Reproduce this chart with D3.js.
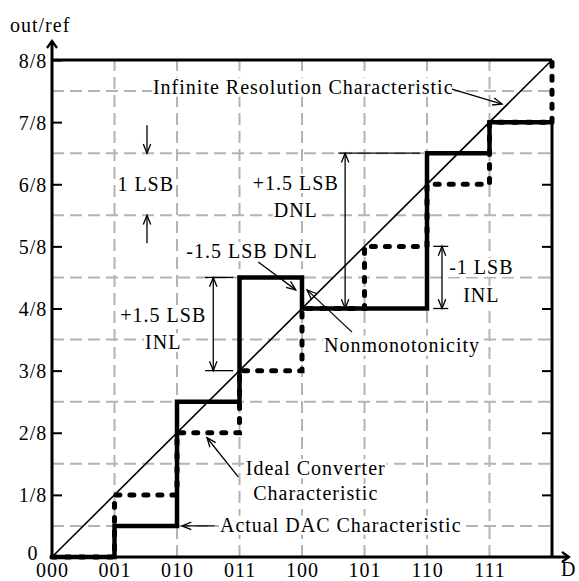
<!DOCTYPE html>
<html>
<head>
<meta charset="utf-8">
<script src="https://cdn.jsdelivr.net/npm/d3@7"></script>
<style>
  body { margin: 0; background: #fff; }
  text { font-family: "Liberation Serif", "Times New Roman", serif; font-size: 20px; letter-spacing: 1px; fill: #000; }
</style>
</head>
<body>
<div id="chart-area"></div>
<script>
// DAC transfer characteristic, values in LSB (eighths of ref)
const codes = ["000", "001", "010", "011", "100", "101", "110", "111"]
const levels = ["0", "1/8", "2/8", "3/8", "4/8", "5/8", "6/8", "7/8", "8/8"]
const ideal = [0, 1, 2, 3, 4, 5, 6, 7]
const actual = [0, 0.5, 2.5, 4.5, 4, 4, 6.5, 7]
const halfSteps = [0.5, 1.5, 2.5, 3.5, 4.5, 5.5, 6.5, 7.5]

const WIDTH = 579, HEIGHT = 581
const MARGIN = { LEFT: 52, RIGHT: 27, TOP: 60, BOTTOM: 24 }

const svg = d3.select("#chart-area").append("svg")
  .attr("width", WIDTH)
  .attr("height", HEIGHT)

const x = d3.scaleLinear().domain([0, 8]).range([MARGIN.LEFT, WIDTH - MARGIN.RIGHT])
const y = d3.scaleLinear().domain([0, 8]).range([HEIGHT - MARGIN.BOTTOM, MARGIN.TOP])

// grid
const grid = svg.append("g")
  .attr("stroke", "#b4b4b4")
  .attr("stroke-width", 2)
  .attr("stroke-dasharray", "12,6")
grid.selectAll(".vg").data(d3.range(1, 8)).enter().append("line")
  .attr("x1", d => x(d)).attr("x2", d => x(d))
  .attr("y1", y(0)).attr("y2", y(8))
grid.selectAll(".hg").data(halfSteps).enter().append("line")
  .attr("x1", x(0)).attr("x2", x(8))
  .attr("y1", d => y(d)).attr("y2", d => y(d))

// annotations (positions in code / LSB units)
const notes = [
  { lines: ["Infinite Resolution Characteristic"], cx: 4.02, cy: [7.57] },
  { lines: ["1 LSB"], cx: 1.5, cy: [6.0] },
  { lines: ["+1.5 LSB", "DNL"], cx: 3.9, cy: [6.02, 5.58] },
  { lines: ["-1.5 LSB DNL"], cx: 3.2, cy: [4.92] },
  { lines: ["+1.5 LSB", "INL"], cx: 1.78, cy: [3.9, 3.46] },
  { lines: ["Nonmonotonicity"], cx: 5.6, cy: [3.42] },
  { lines: ["-1 LSB", "INL"], cx: 6.87, cy: [4.67, 4.22] },
  { lines: ["Ideal Converter", "Characteristic"], cx: 4.22, cy: [1.43, 1.03] },
  { lines: ["Actual DAC Characteristic"], cx: 4.62, cy: [0.52] }
]
// pointers: [x1, y1, x2, y2], head at the second point
const pointers = [
  [6.4, 7.53, 7.2, 7.29],
  [1.52, 6.95, 1.52, 6.5],
  [1.52, 5.05, 1.52, 5.5],
  [3.3, 4.75, 3.9, 4.3],
  [4.8, 3.62, 4.08, 4.3],
  [2.98, 1.29, 2.48, 1.92],
  [2.6, 0.5, 2.08, 0.5]
]
// double arrows: [x, yTop, yBottom]
const spans = [
  [4.69, 6.5, 4],
  [2.58, 4.5, 3],
  [6.24, 5, 4]
]
// short extension lines: [x1, x2, y]
const extents = [
  [4.58, 5.89, 6.5],
  [2.45, 2.9, 4.5],
  [2.45, 2.9, 3],
  [6.1, 6.34, 5],
  [6.1, 6.34, 4]
]

const ann = svg.append("g")
notes.forEach(n => {
  n.lines.forEach((t, i) => {
    const bg = ann.append("rect").attr("fill", "#fff")
    const txt = ann.append("text")
      .attr("x", x(n.cx))
      .attr("y", y(n.cy[i]))
      .attr("dy", "0.35em")
      .attr("text-anchor", "middle")
      .text(t)
    const b = txt.node().getBBox()
    bg.attr("x", b.x - 1).attr("y", b.y + 2).attr("width", b.width + 2).attr("height", b.height - 3)
  })
})

function arrowHead(g, x1, y1, x2, y2) {
  const a = Math.atan2(y2 - y1, x2 - x1), L = 10, s = 0.38
  g.append("path")
    .attr("d", `M${x2 - L * Math.cos(a - s)},${y2 - L * Math.sin(a - s)}L${x2},${y2}L${x2 - L * Math.cos(a + s)},${y2 - L * Math.sin(a + s)}`)
}

const arr = svg.append("g").attr("stroke", "#000").attr("stroke-width", 1.3).attr("fill", "none")
pointers.forEach(p => {
  const [x1, y1, x2, y2] = [x(p[0]), y(p[1]), x(p[2]), y(p[3])]
  arr.append("line").attr("x1", x1).attr("y1", y1).attr("x2", x2).attr("y2", y2)
  arrowHead(arr, x1, y1, x2, y2)
})
spans.forEach(s => {
  const [xx, y1, y2] = [x(s[0]), y(s[1]), y(s[2])]
  arr.append("line").attr("x1", xx).attr("x2", xx).attr("y1", y1).attr("y2", y2)
  arrowHead(arr, xx, y2, xx, y1)
  arrowHead(arr, xx, y1, xx, y2)
})
extents.forEach(e => {
  arr.append("line").attr("x1", x(e[0])).attr("x2", x(e[1])).attr("y1", y(e[2])).attr("y2", y(e[2]))
})

// infinite resolution line
svg.append("line")
  .attr("x1", x(0)).attr("y1", y(0))
  .attr("x2", x(8)).attr("y2", y(8))
  .attr("stroke", "#000")
  .attr("stroke-width", 1.6)

const step = d3.line()
  .x(d => x(d[0]))
  .y(d => y(d[1]))
  .curve(d3.curveStepAfter)

const idealPts = ideal.map((v, i) => [i, v]).concat([[8, ideal[7]]])
svg.append("path")
  .datum(idealPts)
  .attr("fill", "none")
  .attr("stroke", "#000")
  .attr("stroke-width", 5)
  .attr("stroke-linecap", "round")
  .attr("stroke-dasharray", "4,10")
  .attr("d", step)
svg.append("line")
  .attr("x1", x(8)).attr("x2", x(8))
  .attr("y1", y(ideal[7])).attr("y2", y(8))
  .attr("stroke", "#000")
  .attr("stroke-width", 5)
  .attr("stroke-linecap", "round")
  .attr("stroke-dasharray", "4,10")

const actualPts = actual.map((v, i) => [i, v]).concat([[8, actual[7]]])
svg.append("path")
  .datum(actualPts)
  .attr("fill", "none")
  .attr("stroke", "#000")
  .attr("stroke-width", 4.5)
  .attr("d", step)

// axes
const yAxis = svg.append("g")
  .attr("transform", `translate(${x(0)},0)`)
  .call(d3.axisLeft(y).tickValues(d3.range(9)).tickFormat(i => levels[i]).tickSize(-10))
yAxis.select(".domain").remove()
yAxis.selectAll("line").attr("stroke-width", 2)
yAxis.selectAll("text")
  .attr("x", -19)
  .attr("dy", "0.35em")
  .attr("text-anchor", "middle")
  .style("font-size", "20px")
  .style("font-family", "Liberation Serif")
  .attr("transform", d => d === 0 ? "translate(0,-5)" : null)

const rAxis = svg.append("g")
  .attr("transform", `translate(${x(8)},0)`)
  .call(d3.axisRight(y).tickValues(d3.range(1, 8)).tickFormat("").tickSize(-10))
rAxis.select(".domain").remove()
rAxis.selectAll("line").attr("stroke-width", 2)

const xAxis = svg.append("g")
  .attr("transform", `translate(0,${y(0)})`)
  .call(d3.axisBottom(x).tickValues(d3.range(8)).tickFormat(i => codes[i]).tickSize(0).tickPadding(6))
xAxis.select(".domain").remove()
xAxis.selectAll("text")
  .style("font-size", "20px")
  .style("font-family", "Liberation Serif")

const frame = svg.append("g").attr("stroke", "#000").attr("stroke-width", 3).attr("fill", "none")
frame.append("line").attr("x1", x(0)).attr("x2", x(0)).attr("y1", y(0) + 1.5).attr("y2", 41)
frame.append("line").attr("x1", x(0) - 1.5).attr("x2", 569).attr("y1", y(0)).attr("y2", y(0))
frame.append("line").attr("x1", x(0)).attr("x2", x(8)).attr("y1", y(8)).attr("y2", y(8))
frame.append("line").attr("x1", x(8)).attr("x2", x(8)).attr("y1", y(0)).attr("y2", y(7))
frame.append("path").attr("d", `M${x(0) - 5},48L${x(0)},41L${x(0) + 5},48`).attr("stroke-width", 2.2)
frame.append("path").attr("d", `M562,${y(0) - 5}L569,${y(0)}L562,${y(0) + 5}`).attr("stroke-width", 2.2)

svg.append("text").attr("x", 10).attr("y", 32).text("out/ref")
svg.append("text").attr("x", 561).attr("y", 576).style("letter-spacing", "0px").text("D")
</script>
</body>
</html>
